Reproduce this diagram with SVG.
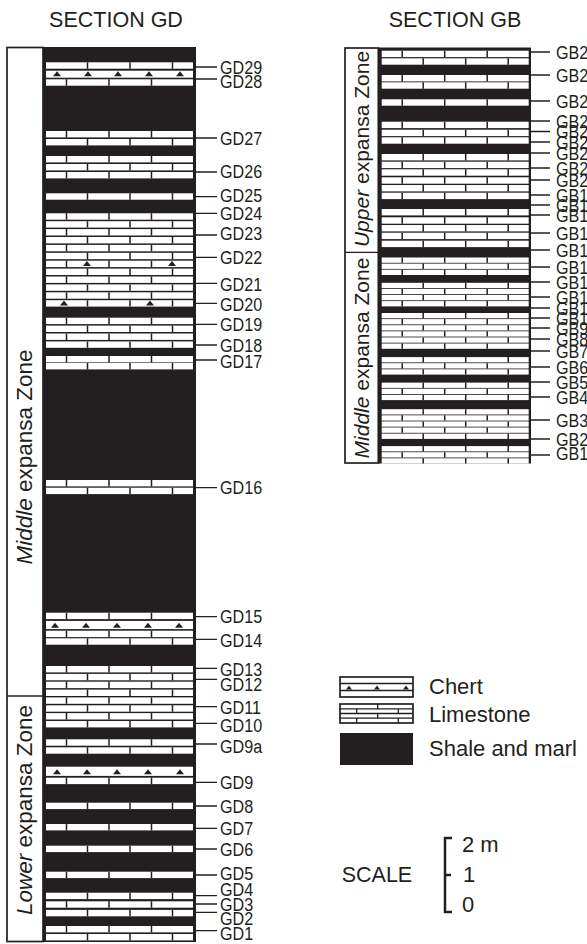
<svg xmlns="http://www.w3.org/2000/svg" xmlns:xlink="http://www.w3.org/1999/xlink" width="587" height="944" viewBox="0 0 587 944">
<style>
.lbl{font-family:"Liberation Sans",Arial,sans-serif;font-size:19px;fill:#231f20}
.ttl{font-family:"Liberation Sans",Arial,sans-serif;font-size:21.5px;fill:#231f20}
.zone{font-family:"Liberation Sans",Arial,sans-serif;font-size:22.5px;fill:#231f20}
.zoneb{font-family:"Liberation Sans",Arial,sans-serif;font-size:21px;fill:#231f20}
.leg{font-family:"Liberation Sans",Arial,sans-serif;font-size:22px;fill:#231f20}
.ld{stroke:#231f20;stroke-width:1.3;fill:none}
.box{fill:#fff;stroke:#231f20;stroke-width:1.7}
.blk{fill:#231f20}
</style>
<defs>
<g id="rA"><rect width="147" height="6.4" fill="#fff"/><path d="M41.5 0V6.4M84 0V6.4M126.5 0V6.4" stroke="#231f20" stroke-width="1.5"/></g>
<g id="rB"><rect width="147" height="6.4" fill="#fff"/><path d="M20.5 0V6.4M63 0V6.4M105.5 0V6.4" stroke="#231f20" stroke-width="1.5"/></g>
<g id="sA"><rect width="147" height="5.3" fill="#fff"/><path d="M41.5 0V5.3M84 0V5.3M126.5 0V5.3" stroke="#231f20" stroke-width="1.5"/></g>
<g id="sB"><rect width="147" height="5.3" fill="#fff"/><path d="M20.5 0V5.3M63 0V5.3M105.5 0V5.3" stroke="#231f20" stroke-width="1.5"/></g>
<path id="t" d="M-4 0L0-5L4 0Z" fill="#231f20"/>
<path id="ts" d="M-3 0L0-4L3 0Z" fill="#231f20"/>
</defs>

<text class="ttl" x="116" y="27" text-anchor="middle">SECTION GD</text>
<text class="ttl" x="455" y="27" text-anchor="middle">SECTION GB</text>

<g id="section-gd">
<rect class="box" x="7" y="47.5" width="36" height="894"/>
<path d="M7 696H43" class="ld" stroke-width="1.7"/>
<rect class="blk" x="43" y="47" width="153" height="895"/>
<g transform="translate(46 0)">
<use xlink:href="#rA" y="62.3"/>
<rect x="0" y="70.7" width="147" height="7" fill="#fff"/>
<use xlink:href="#rB" y="79.3"/>
<use xlink:href="#rB" y="131"/>
<use xlink:href="#rA" y="139"/>
<use xlink:href="#rB" y="156"/>
<use xlink:href="#rA" y="164"/>
<use xlink:href="#rB" y="172"/>
<use xlink:href="#rA" y="193.3"/>
<use xlink:href="#rB" y="213.3"/>
<use xlink:href="#rA" y="221.2"/>
<use xlink:href="#rB" y="229.1"/>
<use xlink:href="#rA" y="237"/>
<use xlink:href="#rB" y="244.9"/>
<use xlink:href="#rA" y="252.8"/>
<use xlink:href="#rB" y="260.7"/>
<use xlink:href="#rA" y="268.6"/>
<use xlink:href="#rB" y="276.5"/>
<use xlink:href="#rA" y="284.4"/>
<use xlink:href="#rB" y="292.3"/>
<use xlink:href="#rA" y="300.2"/>
<use xlink:href="#rB" y="317.7"/>
<use xlink:href="#rA" y="325.6"/>
<use xlink:href="#rB" y="333.5"/>
<use xlink:href="#rA" y="341.4"/>
<use xlink:href="#rB" y="356"/>
<use xlink:href="#rA" y="363"/>
<use xlink:href="#rB" y="480"/>
<use xlink:href="#rA" y="487.7"/>
<use xlink:href="#rB" y="612.7"/>
<rect x="0" y="620.9" width="147" height="8.2" fill="#fff"/>
<use xlink:href="#rB" y="630.7"/>
<use xlink:href="#rA" y="638.3"/>
<use xlink:href="#rB" y="666"/>
<use xlink:href="#rA" y="673.9"/>
<use xlink:href="#rB" y="681.7"/>
<use xlink:href="#rA" y="689.6"/>
<use xlink:href="#rB" y="697.4"/>
<use xlink:href="#rA" y="705.3"/>
<use xlink:href="#rB" y="713.1"/>
<use xlink:href="#rA" y="721"/>
<use xlink:href="#rB" y="739.3"/>
<use xlink:href="#rA" y="747.3"/>
<rect x="0" y="766.7" width="147" height="9.2" fill="#fff"/>
<use xlink:href="#rB" y="777.7"/>
<use xlink:href="#rA" y="802.7"/>
<use xlink:href="#rB" y="824"/>
<use xlink:href="#rA" y="845.7"/>
<use xlink:href="#rB" y="871.7"/>
<use xlink:href="#rA" y="892.7"/>
<use xlink:href="#rB" y="901.3"/>
<use xlink:href="#rA" y="909.9"/>
<use xlink:href="#rB" y="926"/>
<use xlink:href="#rA" y="934"/>
</g>
<g id="gd-chert">
<use xlink:href="#t" x="57" y="76.2"/><use xlink:href="#t" x="88" y="76.2"/><use xlink:href="#t" x="118" y="76.2"/><use xlink:href="#t" x="149" y="76.2"/><use xlink:href="#t" x="180" y="76.2"/>
<use xlink:href="#t" x="87" y="266"/><use xlink:href="#t" x="172" y="266"/>
<use xlink:href="#t" x="64" y="305.5"/><use xlink:href="#t" x="150" y="305.5"/>
<use xlink:href="#t" x="55" y="627.8"/><use xlink:href="#t" x="86" y="627.8"/><use xlink:href="#t" x="117" y="627.8"/><use xlink:href="#t" x="148" y="627.8"/><use xlink:href="#t" x="179" y="627.8"/>
<use xlink:href="#t" x="57" y="774.2"/><use xlink:href="#t" x="87" y="774.2"/><use xlink:href="#t" x="117" y="774.2"/><use xlink:href="#t" x="148" y="774.2"/><use xlink:href="#t" x="180" y="774.2"/>
</g>
<g class="zone">
<text transform="translate(32 457) rotate(-90)" text-anchor="middle"><tspan font-style="italic">Middle</tspan> expansa Zone</text>
<text transform="translate(32 810) rotate(-90)" text-anchor="middle"><tspan font-style="italic">Lower</tspan> expansa Zone</text>
</g>
</g>

<g id="section-gb">
<rect class="box" x="345" y="48" width="33.3" height="415"/>
<path d="M345 252.3H378" class="ld" stroke-width="1.7"/>
<rect class="blk" x="378.3" y="47.5" width="152.7" height="416"/>
<g transform="translate(381.7 0)">
<use xlink:href="#rB" y="50.7"/><use xlink:href="#rA" y="58.3"/>
<use xlink:href="#rB" y="75"/><use xlink:href="#rA" y="82.3"/>
<use xlink:href="#rB" y="99.3"/>
<use xlink:href="#rB" y="121.7"/><use xlink:href="#rA" y="129.7"/><use xlink:href="#rB" y="137.3"/>
<use xlink:href="#rA" y="154"/><use xlink:href="#rB" y="161.7"/><use xlink:href="#rA" y="169.3"/><use xlink:href="#rB" y="177.3"/><use xlink:href="#rA" y="185"/><use xlink:href="#rB" y="192.7"/>
<use xlink:href="#rA" y="209"/><use xlink:href="#rB" y="217.3"/><use xlink:href="#rA" y="225"/><use xlink:href="#rB" y="232.7"/><use xlink:href="#rA" y="240.7"/>
<use xlink:href="#sB" y="257.5"/><use xlink:href="#sA" y="263.6"/><use xlink:href="#sB" y="269.7"/>
<use xlink:href="#sA" y="282.8"/><use xlink:href="#sB" y="288.9"/><use xlink:href="#sA" y="295"/><use xlink:href="#sB" y="301.1"/>
<use xlink:href="#sA" y="313"/><use xlink:href="#sB" y="319.1"/><use xlink:href="#sA" y="325.2"/><use xlink:href="#sB" y="331.3"/><use xlink:href="#sA" y="337.4"/><use xlink:href="#sB" y="343.5"/>
<use xlink:href="#sA" y="357.1"/><use xlink:href="#sB" y="363.2"/><use xlink:href="#sA" y="369.3"/>
<use xlink:href="#sA" y="382.6"/><use xlink:href="#sB" y="388.7"/><use xlink:href="#sA" y="394.8"/>
<use xlink:href="#sA" y="409.2"/><use xlink:href="#sB" y="415.3"/><use xlink:href="#sA" y="421.4"/><use xlink:href="#sB" y="427.5"/><use xlink:href="#sA" y="433.6"/>
<use xlink:href="#sA" y="446.1"/><use xlink:href="#sB" y="452.2"/><use xlink:href="#sA" y="458.3"/>
</g>
<g class="zoneb">
<text transform="translate(368.5 149) rotate(-90)" text-anchor="middle"><tspan font-style="italic">Upper</tspan> expansa Zone</text>
<text transform="translate(368.5 358) rotate(-90)" text-anchor="middle"><tspan font-style="italic">Middle</tspan> expansa Zone</text>
</g>
</g>

<g id="connectors" class="ld">
<path d="M196 67H217M196 79H217M196 138H217M196 172H217M196 196.7H217M196 213.3H217M196 235H217M196 257.3H217M196 283.3H217M196 303.3H217M196 324.3H217M196 345H217M196 360H217M196 487.7H217M196 616.7H217M196 639.3H217M196 668.3H217M196 679.3H217M196 706.7H217M196 723.3H217M196 744H217M196 782.3H217M196 806H217M196 828.3H217M196 849H217M196 875H217M196 895.7H217M196 904H217M196 912.3H217M196 930.7H217"/>
<path d="M531 52H550M531 75H550M531 101H550M531 121H550M531 131.5H550M531 142H550M531 153H550M531 168H550M531 180H550M531 195H550M531 205H550M531 215H550M531 233H550M531 250H550M531 267H550M531 282H550M531 297H550M531 308H550M531 318H550M531 328H550M531 339H550M531 351H550M531 367H550M531 382H550M531 397H550M531 420H550M531 439H550M531 455H550"/>
</g>

<g id="gd-labels" class="lbl">
<text transform="translate(220 73.8) scale(.85 1)">GD29</text>
<text transform="translate(220 88.3) scale(.85 1)">GD28</text>
<text transform="translate(220 145.3) scale(.85 1)">GD27</text>
<text transform="translate(220 178.3) scale(.85 1)">GD26</text>
<text transform="translate(220 202.3) scale(.85 1)">GD25</text>
<text transform="translate(220 219.8) scale(.85 1)">GD24</text>
<text transform="translate(220 240.3) scale(.85 1)">GD23</text>
<text transform="translate(220 263.8) scale(.85 1)">GD22</text>
<text transform="translate(220 291.3) scale(.85 1)">GD21</text>
<text transform="translate(220 310.8) scale(.85 1)">GD20</text>
<text transform="translate(220 331.3) scale(.85 1)">GD19</text>
<text transform="translate(220 351.8) scale(.85 1)">GD18</text>
<text transform="translate(220 368.3) scale(.85 1)">GD17</text>
<text transform="translate(220 493.8) scale(.85 1)">GD16</text>
<text transform="translate(220 622.8) scale(.85 1)">GD15</text>
<text transform="translate(220 646.8) scale(.85 1)">GD14</text>
<text transform="translate(220 675.8) scale(.85 1)">GD13</text>
<text transform="translate(220 690.8) scale(.85 1)">GD12</text>
<text transform="translate(220 714.3) scale(.85 1)">GD11</text>
<text transform="translate(220 731.8) scale(.85 1)">GD10</text>
<text transform="translate(220 752.8) scale(.85 1)">GD9a</text>
<text transform="translate(220 788.8) scale(.85 1)">GD9</text>
<text transform="translate(220 812.8) scale(.85 1)">GD8</text>
<text transform="translate(220 834.8) scale(.85 1)">GD7</text>
<text transform="translate(220 855.8) scale(.85 1)">GD6</text>
<text transform="translate(220 879.8) scale(.85 1)">GD5</text>
<text transform="translate(220 895.8) scale(.85 1)">GD4</text>
<text transform="translate(220 910.8) scale(.85 1)">GD3</text>
<text transform="translate(220 924.8) scale(.85 1)">GD2</text>
<text transform="translate(220 939.8) scale(.85 1)">GD1</text>
</g>

<g id="gb-labels" class="lbl">
<text transform="translate(556 58.8) scale(.85 1)">GB2</text>
<text transform="translate(556 81.8) scale(.85 1)">GB2</text>
<text transform="translate(556 107.8) scale(.85 1)">GB2</text>
<text transform="translate(556 127.8) scale(.85 1)">GB2</text>
<text transform="translate(556 138.3) scale(.85 1)">GB2</text>
<text transform="translate(556 148.8) scale(.85 1)">GB2</text>
<text transform="translate(556 159.8) scale(.85 1)">GB2</text>
<text transform="translate(556 174.8) scale(.85 1)">GB2</text>
<text transform="translate(556 186.8) scale(.85 1)">GB2</text>
<text transform="translate(556 201.8) scale(.85 1)">GB1</text>
<text transform="translate(556 211.8) scale(.85 1)">GB1</text>
<text transform="translate(556 221.8) scale(.85 1)">GB1</text>
<text transform="translate(556 239.8) scale(.85 1)">GB1</text>
<text transform="translate(556 256.8) scale(.85 1)">GB1</text>
<text transform="translate(556 273.8) scale(.85 1)">GB1</text>
<text transform="translate(556 288.8) scale(.85 1)">GB1</text>
<text transform="translate(556 303.8) scale(.85 1)">GB1</text>
<text transform="translate(556 314.8) scale(.85 1)">GB1</text>
<text transform="translate(556 324.8) scale(.85 1)">GB1</text>
<text transform="translate(556 334.8) scale(.85 1)">GB9</text>
<text transform="translate(556 345.8) scale(.85 1)">GB8</text>
<text transform="translate(556 357.8) scale(.85 1)">GB7</text>
<text transform="translate(556 373.8) scale(.85 1)">GB6</text>
<text transform="translate(556 388.8) scale(.85 1)">GB5</text>
<text transform="translate(556 403.8) scale(.85 1)">GB4</text>
<text transform="translate(556 426.8) scale(.85 1)">GB3</text>
<text transform="translate(556 445.8) scale(.85 1)">GB2</text>
<text transform="translate(556 460.3) scale(.85 1)">GB1</text>
</g>

<g id="legend">
<g id="leg-chert">
<rect class="box" x="340" y="677" width="73" height="20"/>
<path d="M340 683.5H413M340 690.5H413" class="ld" stroke-width="1.3"/>
<use xlink:href="#ts" x="349" y="689.5"/><use xlink:href="#ts" x="377" y="689.5"/><use xlink:href="#ts" x="406" y="689.5"/>
<text class="leg" x="429" y="694">Chert</text>
</g>
<g id="leg-limestone">
<rect class="box" x="340" y="704" width="73" height="19"/>
<path d="M340 708.8H413M340 713.5H413M340 718.2H413M377.7 704V708.8M356.7 708.8V713.5M398.3 708.8V713.5M377.7 713.5V718.2M356.7 718.2V723M398.3 718.2V723" class="ld" stroke-width="1.2"/>
<text class="leg" x="429" y="722">Limestone</text>
</g>
<g id="leg-shale">
<rect class="blk" x="340" y="733" width="73" height="32"/>
<text class="leg" x="429" y="756">Shale and marl</text>
</g>
</g>

<g id="scale">
<text class="ttl" x="341.7" y="882" font-size="20">SCALE</text>
<path d="M452 838H445V912H452M445 875H451" fill="none" stroke="#231f20" stroke-width="2.5"/>
<text class="leg" x="462" y="852">2 m</text>
<text class="leg" x="463" y="882">1</text>
<text class="leg" x="462" y="912">0</text>
</g>
</svg>
